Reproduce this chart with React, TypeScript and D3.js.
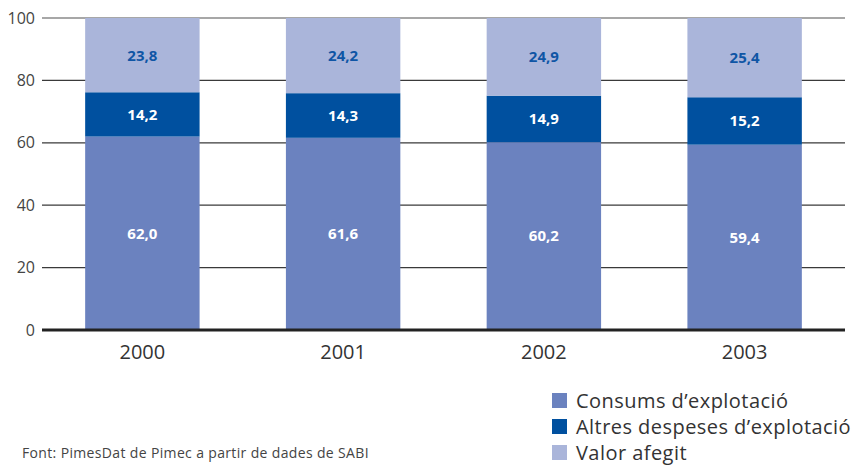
import React from "react";
import * as d3 from "d3";

const years = ["2000", "2001", "2002", "2003"];
const consums = [62.0, 61.6, 60.2, 59.4];
const altres = [14.2, 14.3, 14.9, 15.2];
const valor = [23.8, 24.2, 24.9, 25.4];
const seriesNames = ["Consums d\u2019explotació", "Altres despeses d\u2019explotació", "Valor afegit"];
const seriesColors = ["#6b82bf", "#00509f", "#aab5da"];
const labelColors = ["#ffffff", "#ffffff", "#0f55a5"];
const yTicks = [0, 20, 40, 60, 80, 100];
const source = "Font: PimesDat de Pimec a partir de dades de SABI";

const W = 855;
const H = 466;
const FONT = "'Open Sans', 'DejaVu Sans', sans-serif";

export default function App() {
  const x = d3.scaleBand<string>().domain(years).range([42, 845]).paddingInner(0.43).paddingOuter(0.215);
  const y = d3.scaleLinear().domain([0, 100]).range([330, 18]);

  const rows = years.map((yr, i) => ({ year: yr, c: consums[i], a: altres[i], v: valor[i] }));
  const stack = d3.stack<any>().keys(["c", "a", "v"]);
  const layers = stack(rows);
  const fmt = (n: number) => n.toFixed(1).replace(".", ",");

  return (
    <svg width={W} height={H} style={{ position: "absolute", left: 0, top: 0 }} fontFamily={FONT}>
      <rect x={0} y={0} width={W} height={H} fill="#ffffff" />
      {yTicks.map((t) => (
        <g key={t}>
          {t !== 0 && (
            <line
              x1={42}
              x2={845}
              y1={y(t)}
              y2={y(t)}
              stroke={t === 100 ? "#8a8a8a" : "#3a3a3a"}
              strokeWidth={t === 100 ? 1.5 : 1.2}
            />
          )}
          <text x={35} y={y(t)} dy="0.35em" textAnchor="end" fontSize={16} fill="#444">
            {t}
          </text>
        </g>
      ))}
      {layers.map((layer, li) => (
        <g key={li}>
          {layer.map((d: any, i: number) => {
            const top = y(Math.min(d[1], 100));
            const bot = y(d[0]);
            const val = [consums, altres, valor][li][i];
            return (
              <g key={i}>
                <rect x={x(years[i])!} y={top} width={x.bandwidth()} height={bot - top} fill={seriesColors[li]} />
                <text
                  x={x(years[i])! + x.bandwidth() / 2}
                  y={(top + bot) / 2}
                  dy="0.36em"
                  textAnchor="middle"
                  fontSize={15}
                  fontWeight="bold"
                  fill={labelColors[li]}
                >
                  {fmt(val)}
                </text>
              </g>
            );
          })}
        </g>
      ))}
      <line x1={42} x2={845} y1={y(0)} y2={y(0)} stroke="#222" strokeWidth={3} />
      {years.map((yr) => (
        <text key={yr} x={x(yr)! + x.bandwidth() / 2} y={359} textAnchor="middle" fontSize={20} fill="#333">
          {yr}
        </text>
      ))}
      {seriesNames.map((n, i) => (
        <g key={n}>
          <rect x={552} y={393 + i * 26} width={15} height={15} fill={seriesColors[i]} />
          <text x={576} y={400.5 + i * 26} dy="0.36em" fontSize={20} letterSpacing={0.45} fill="#333">
            {n}
          </text>
        </g>
      ))}
      <text x={22} y={453} dy="0.36em" fontSize={14} letterSpacing={0.35} fill="#444">
        {source}
      </text>
    </svg>
  );
}
